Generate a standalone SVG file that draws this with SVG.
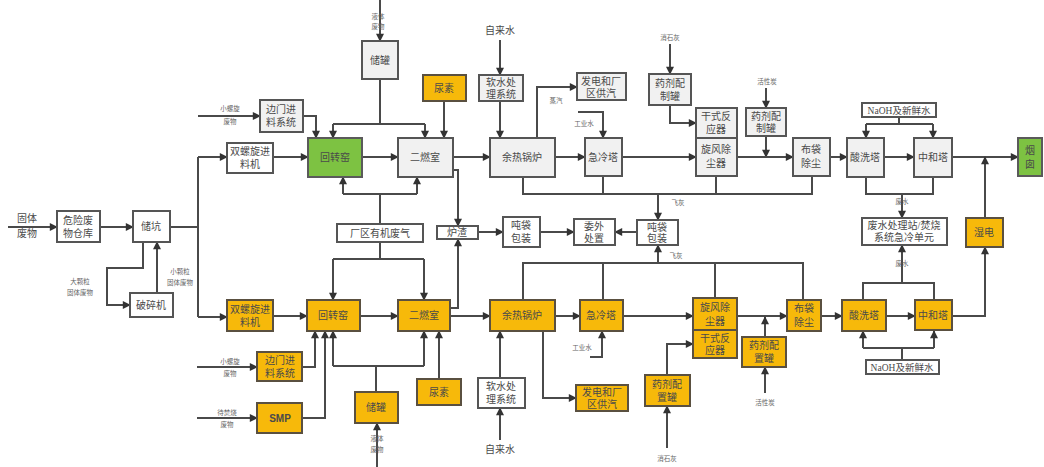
<svg xmlns="http://www.w3.org/2000/svg" width="1044" height="467" viewBox="0 0 1044 467">
<style>
text{font-family:"Liberation Serif","Noto Sans CJK SC",serif;fill:#4a4a4a;text-anchor:middle}
.t{font-size:10px}
.s{font-size:6.5px;fill:#666}
.m{font-size:9.5px}
rect{stroke:#555;stroke-width:2}
.g{fill:#f1f1f1}
.w{fill:#fff}
.o{fill:#f7b90a;stroke:#5a5040}
.gr{fill:#7dc242;stroke:#5a5a5a}
#conn path{fill:none;stroke:#4a4a4a;stroke-width:2}
#conn path.a{marker-end:url(#ah)}
.smp{font-family:"Liberation Sans","Noto Sans",sans-serif;font-weight:bold;font-size:10px}
</style>
<defs>
<marker id="ah" viewBox="0 0 10 10" refX="9" refY="5" markerWidth="9" markerHeight="8" markerUnits="userSpaceOnUse" orient="auto">
<path d="M0,0 L10,5 L0,10 z" fill="#333"/>
</marker>
</defs>

<g id="conn">
<!-- top row -->
<path class="a" d="M380,0 V41"/>
<path d="M380,79 V124 M333,124 H425"/>
<path class="a" d="M333,124 V138"/>
<path class="a" d="M425,124 V138"/>
<path class="a" d="M444,101 V138"/>
<path class="a" d="M500,40 V75"/>
<path class="a" d="M500,101 V138"/>
<path class="a" d="M537,138 V87 H577"/>
<path class="a" d="M670,44 V74"/>
<path class="a" d="M670,105 V123 H696"/>
<path class="a" d="M766,88 V108"/>
<path class="a" d="M766,136 V157"/>
<path class="a" d="M578,112 H603 V138"/>
<path d="M899,117 V124 M866,124 H933"/>
<path class="a" d="M866,124 V138"/>
<path class="a" d="M933,124 V138"/>
<path class="a" d="M198,116 H260"/>
<path class="a" d="M303,116 H316 V138"/>
<path class="a" d="M273,157 H308"/>
<path class="a" d="M362,157 H398"/>
<path class="a" d="M453,157 H490"/>
<path class="a" d="M555,157 H585"/>
<path class="a" d="M622,157 H696"/>
<path class="a" d="M737,157 H793"/>
<path class="a" d="M830,157 H847"/>
<path class="a" d="M884,157 H914"/>
<path class="a" d="M952,157 H1018"/>
<!-- middle -->
<path class="a" d="M8,227 H57"/>
<path class="a" d="M100,227 H133"/>
<path d="M170,227 H198 M198,157 V317"/>
<path class="a" d="M198,157 H227"/>
<path class="a" d="M198,317 H227"/>
<path class="a" d="M143,242 V268 H107 V305 H130"/>
<path class="a" d="M157,293 V242"/>
<path d="M380,224 V194 M343,194 H417"/>
<path class="a" d="M343,194 V177"/>
<path class="a" d="M417,194 V177"/>
<path d="M380,242 V259 M333,259 H424"/>
<path class="a" d="M333,259 V300"/>
<path class="a" d="M424,259 V300"/>
<path class="a" d="M453,170 H458 V226"/>
<path class="a" d="M450,308 H458 V239"/>
<path class="a" d="M478,232 H503"/>
<path class="a" d="M540,232 H574"/>
<path class="a" d="M637,232 H615"/>
<path d="M523,177 V194 H812 V176 M603,176 V194 M716,176 V194"/>
<path class="a" d="M658,194 V220"/>
<path d="M523,300 V263 H803 V300 M603,263 V300 M715,263 V298"/>
<path class="a" d="M658,263 V245"/>
<path d="M866,177 V194 H933 V177"/>
<path class="a" d="M902,194 V218"/>
<path d="M863,300 V283 H934 V300"/>
<path class="a" d="M902,283 V245"/>
<path class="a" d="M952,316 H985 V247"/>
<path class="a" d="M985,218 V157"/>
<!-- bottom row -->
<path class="a" d="M273,316 H307"/>
<path class="a" d="M360,316 H398"/>
<path class="a" d="M450,316 H490"/>
<path class="a" d="M555,316 H580"/>
<path class="a" d="M623,316 H693"/>
<path class="a" d="M737,316 H787"/>
<path class="a" d="M821,316 H842"/>
<path class="a" d="M886,316 H915"/>
<path class="a" d="M197,367 H257"/>
<path class="a" d="M302,367 H315 V331"/>
<path class="a" d="M197,418 H257"/>
<path class="a" d="M302,418 H325 V331"/>
<path d="M376,392 V366 M333,366 H424"/>
<path class="a" d="M333,366 V331"/>
<path class="a" d="M424,366 V331"/>
<path class="a" d="M377,467 V423"/>
<path class="a" d="M439,379 V331"/>
<path class="a" d="M500,440 V408"/>
<path class="a" d="M500,378 V331"/>
<path class="a" d="M543,331 V398 H576"/>
<path class="a" d="M590,357 H602 V331"/>
<path class="a" d="M667,448 V406"/>
<path class="a" d="M667,375 V344 H693"/>
<path class="a" d="M765,393 V367"/>
<path class="a" d="M765,337 V317"/>
<path d="M902,360 V348 M863,348 H934"/>
<path class="a" d="M863,348 V331"/>
<path class="a" d="M934,348 V331"/>
</g>

<!-- top row nodes -->
<g id="t_storage"><rect class="g" x="362" y="41" width="36" height="38"/><text class="t" x="380" y="64">储罐</text></g>
<g id="t_urea"><rect class="o" x="423" y="75" width="43" height="26"/><text class="t" x="444" y="92">尿素</text></g>
<g id="t_soft"><rect class="g" x="479" y="75" width="44" height="26"/><text class="t" x="501" y="86">软水处</text><text class="t" x="501" y="98">理系统</text></g>
<g id="t_power"><rect class="g" x="577" y="73" width="49" height="27"/><text class="t" x="601" y="85">发电和厂</text><text class="t" x="601" y="97">区供汽</text></g>
<g id="t_agent1"><rect class="g" x="649" y="74" width="42" height="31"/><text class="t" x="670" y="87">药剂配</text><text class="t" x="670" y="100">制罐</text></g>
<g id="t_dry"><rect class="g" x="696" y="108" width="41" height="30"/><text class="t" x="716" y="120">干式反</text><text class="t" x="716" y="133">应器</text></g>
<g id="t_agent2"><rect class="g" x="746" y="108" width="40" height="28"/><text class="t" x="766" y="120">药剂配</text><text class="t" x="766" y="132">制罐</text></g>
<g id="t_naoh"><rect class="w" x="862" y="103" width="74" height="14"/><text class="m" x="899" y="114">NaOH及新鲜水</text></g>
<g id="t_side"><rect class="g" x="260" y="100" width="43" height="32"/><text class="t" x="281" y="113">边门进</text><text class="t" x="281" y="126">料系统</text></g>
<g id="t_screw"><rect class="w" x="227" y="143" width="46" height="30"/><text class="t" x="250" y="155">双螺旋进</text><text class="t" x="250" y="168">料机</text></g>
<g id="t_kiln"><rect class="gr" x="308" y="138" width="54" height="39"/><text class="t" x="335" y="161">回转窑</text></g>
<g id="t_sec"><rect class="g" x="398" y="138" width="55" height="39"/><text class="t" x="425" y="161">二燃室</text></g>
<g id="t_boiler"><rect class="g" x="490" y="138" width="65" height="39"/><text class="t" x="522" y="161">余热锅炉</text></g>
<g id="t_quench"><rect class="g" x="585" y="138" width="37" height="38"/><text class="t" x="603" y="161">急冷塔</text></g>
<g id="t_cyclone"><rect class="g" x="696" y="138" width="41" height="38"/><text class="t" x="716" y="153">旋风除</text><text class="t" x="716" y="167">尘器</text></g>
<g id="t_bag"><rect class="g" x="793" y="138" width="37" height="38"/><text class="t" x="811" y="153">布袋</text><text class="t" x="811" y="167">除尘</text></g>
<g id="t_acid"><rect class="g" x="847" y="138" width="37" height="39"/><text class="t" x="865" y="161">酸洗塔</text></g>
<g id="t_neut"><rect class="g" x="914" y="138" width="38" height="39"/><text class="t" x="933" y="161">中和塔</text></g>
<g id="chimney"><rect class="gr" x="1018" y="138" width="24" height="38"/><text class="t" x="1030" y="154">烟</text><text class="t" x="1030" y="168">囱</text></g>

<!-- middle nodes -->
<g id="warehouse"><rect class="w" x="57" y="211" width="43" height="31"/><text class="t" x="78" y="224">危险废</text><text class="t" x="78" y="237">物仓库</text></g>
<g id="pit"><rect class="w" x="133" y="211" width="37" height="31"/><text class="t" x="151" y="230">储坑</text></g>
<g id="crusher"><rect class="w" x="130" y="293" width="43" height="24"/><text class="t" x="151" y="309">破碎机</text></g>
<g id="fumes"><rect class="w" x="337" y="224" width="86" height="18"/><text class="t" x="380" y="237">厂区有机废气</text></g>
<g id="slag"><rect class="w" x="437" y="226" width="41" height="13"/><text class="t" x="457" y="236">炉渣</text></g>
<g id="tonbag1"><rect class="w" x="503" y="217" width="37" height="30"/><text class="t" x="521" y="229">吨袋</text><text class="t" x="521" y="242">包装</text></g>
<g id="outsource"><rect class="w" x="574" y="219" width="41" height="26"/><text class="t" x="594" y="230">委外</text><text class="t" x="594" y="242">处置</text></g>
<g id="tonbag2"><rect class="w" x="637" y="220" width="41" height="25"/><text class="t" x="657" y="231">吨袋</text><text class="t" x="657" y="242">包装</text></g>
<g id="wastewater"><rect class="w" x="862" y="218" width="85" height="27"/><text class="t" x="904" y="229">废水处理站/焚烧</text><text class="t" x="904" y="241">系统急冷单元</text></g>
<g id="wesp"><rect class="o" x="966" y="218" width="37" height="29"/><text class="t" x="984" y="236">湿电</text></g>

<!-- bottom row nodes -->
<g id="b_screw"><rect class="o" x="227" y="300" width="46" height="31"/><text class="t" x="250" y="313">双螺旋进</text><text class="t" x="250" y="326">料机</text></g>
<g id="b_kiln"><rect class="o" x="307" y="300" width="53" height="31"/><text class="t" x="333" y="319">回转窑</text></g>
<g id="b_sec"><rect class="o" x="398" y="300" width="52" height="31"/><text class="t" x="424" y="319">二燃室</text></g>
<g id="b_boiler"><rect class="o" x="490" y="300" width="65" height="31"/><text class="t" x="522" y="319">余热锅炉</text></g>
<g id="b_quench"><rect class="o" x="580" y="300" width="43" height="31"/><text class="t" x="601" y="319">急冷塔</text></g>
<g id="b_cyclone"><rect class="o" x="693" y="298" width="44" height="32"/><text class="t" x="715" y="311">旋风除</text><text class="t" x="715" y="325">尘器</text></g>
<g id="b_dry"><rect class="o" x="693" y="330" width="44" height="28"/><text class="t" x="715" y="342">干式反</text><text class="t" x="715" y="354">应器</text></g>
<g id="b_agent2"><rect class="o" x="742" y="337" width="44" height="30"/><text class="t" x="764" y="349">药剂配</text><text class="t" x="764" y="362">置罐</text></g>
<g id="b_agent1"><rect class="o" x="645" y="375" width="45" height="31"/><text class="t" x="667" y="388">药剂配</text><text class="t" x="667" y="401">置罐</text></g>
<g id="b_power"><rect class="o" x="576" y="385" width="52" height="26"/><text class="t" x="602" y="396">发电和厂</text><text class="t" x="602" y="408">区供汽</text></g>
<g id="b_bag"><rect class="o" x="787" y="300" width="34" height="31"/><text class="t" x="804" y="312">布袋</text><text class="t" x="804" y="326">除尘</text></g>
<g id="b_acid"><rect class="o" x="842" y="300" width="44" height="31"/><text class="t" x="864" y="319">酸洗塔</text></g>
<g id="b_neut"><rect class="o" x="915" y="300" width="37" height="30"/><text class="t" x="933" y="319">中和塔</text></g>
<g id="b_naoh"><rect class="w" x="866" y="360" width="73" height="14"/><text class="m" x="902" y="371">NaOH及新鲜水</text></g>
<g id="b_side"><rect class="o" x="257" y="352" width="45" height="29"/><text class="t" x="280" y="364">边门进</text><text class="t" x="280" y="377">料系统</text></g>
<g id="b_smp"><rect class="o" x="257" y="403" width="45" height="30"/><text class="smp" x="280" y="422">SMP</text></g>
<g id="b_storage"><rect class="o" x="355" y="392" width="43" height="31"/><text class="t" x="376" y="411">储罐</text></g>
<g id="b_urea"><rect class="o" x="417" y="379" width="44" height="26"/><text class="t" x="439" y="396">尿素</text></g>
<g id="b_soft"><rect class="w" x="478" y="378" width="47" height="30"/><text class="t" x="501" y="390">软水处</text><text class="t" x="501" y="403">理系统</text></g>

<!-- free labels -->
<g id="labels">
<text class="s" x="378" y="19">液体</text><text class="s" x="378" y="29">废物</text>
<text class="t" x="500" y="34">自来水</text>
<text class="s" x="556" y="103">蒸汽</text>
<text class="s" x="584" y="126">工业水</text>
<text class="s" x="670" y="40">消石灰</text>
<text class="s" x="767" y="84">活性炭</text>
<text class="s" x="678" y="205">飞灰</text>
<text class="s" x="676" y="258">飞灰</text>
<text class="s" x="902" y="204">废水</text>
<text class="s" x="902" y="266">废水</text>
<text class="s" x="230" y="111">小螺旋</text><text class="s" x="230" y="124">废物</text>
<text class="s" x="230" y="364">小螺旋</text><text class="s" x="230" y="376">废物</text>
<text class="s" x="227" y="415">待焚烧</text><text class="s" x="227" y="427">废物</text>
<text class="t" x="27" y="222">固体</text><text class="t" x="27" y="237">废物</text>
<text class="s" x="80" y="284">大颗粒</text><text class="s" x="80" y="295">固体废物</text>
<text class="s" x="180" y="274">小颗粒</text><text class="s" x="180" y="285">固体废物</text>
<text class="s" x="377" y="441">液体</text><text class="s" x="377" y="452">废物</text>
<text class="t" x="500" y="453">自来水</text>
<text class="s" x="582" y="350">工业水</text>
<text class="s" x="667" y="461">消石灰</text>
<text class="s" x="765" y="405">活性炭</text>
</g>
</svg>
